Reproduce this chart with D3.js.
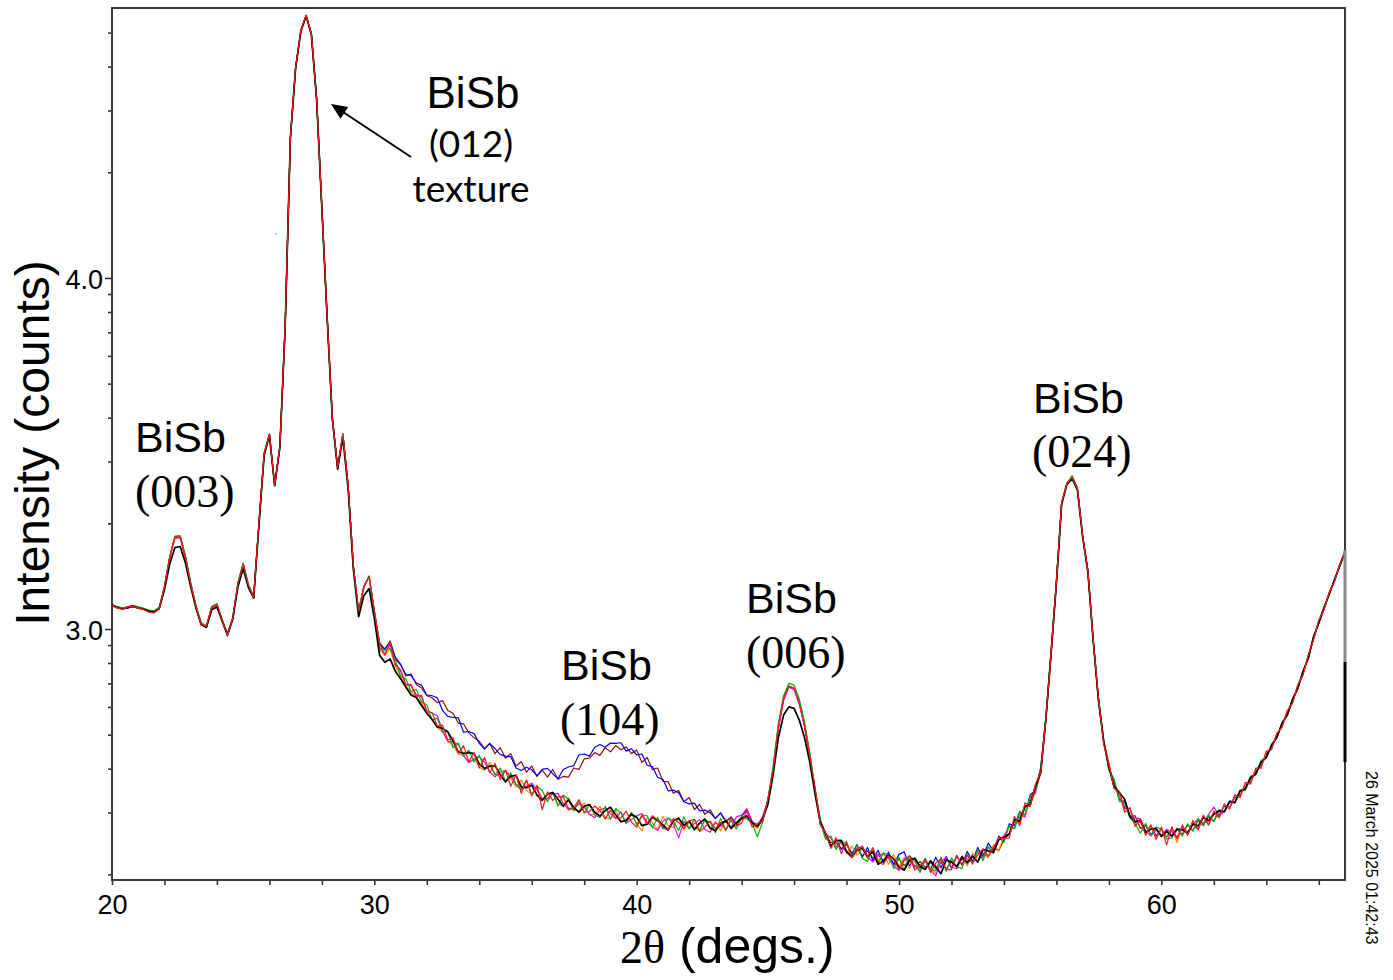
<!DOCTYPE html>
<html><head><meta charset="utf-8">
<script src="https://cdn.jsdelivr.net/npm/d3@7"></script>
<style>body{margin:0;background:#fff}svg{display:block}</style>
</head><body>
<svg id="c" width="1393" height="980"></svg>
<script>
// 2-theta grid (degrees)
const angles = [
20,20.2,20.4,20.6,20.8,21,21.2,21.4,21.6,21.8,
22,22.2,22.4,22.6,22.8,23,23.2,23.4,23.6,23.8,
24,24.2,24.4,24.6,24.8,25,25.2,25.4,25.6,25.8,
26,26.2,26.4,26.6,26.8,27,27.2,27.4,27.6,27.8,
28,28.2,28.4,28.6,28.8,29,29.2,29.4,29.6,29.8,
30,30.2,30.4,30.6,30.8,31,31.2,31.4,31.6,31.8,
32,32.2,32.4,32.6,32.8,33,33.2,33.4,33.6,33.8,
34,34.2,34.4,34.6,34.8,35,35.2,35.4,35.6,35.8,
36,36.2,36.4,36.6,36.8,37,37.2,37.4,37.6,37.8,
38,38.2,38.4,38.6,38.8,39,39.2,39.4,39.6,39.8,
40,40.2,40.4,40.6,40.8,41,41.2,41.4,41.6,41.8,
42,42.2,42.4,42.6,42.8,43,43.2,43.4,43.6,43.8,
44,44.2,44.4,44.6,44.8,45,45.2,45.4,45.6,45.8,
46,46.2,46.4,46.6,46.8,47,47.2,47.4,47.6,47.8,
48,48.2,48.4,48.6,48.8,49,49.2,49.4,49.6,49.8,
50,50.2,50.4,50.6,50.8,51,51.2,51.4,51.6,51.8,
52,52.2,52.4,52.6,52.8,53,53.2,53.4,53.6,53.8,
54,54.2,54.4,54.6,54.8,55,55.2,55.4,55.6,55.8,
56,56.2,56.4,56.6,56.8,57,57.2,57.4,57.6,57.8,
58,58.2,58.4,58.6,58.8,59,59.2,59.4,59.6,59.8,
60,60.2,60.4,60.6,60.8,61,61.2,61.4,61.6,61.8,
62,62.2,62.4,62.6,62.8,63,63.2,63.4,63.6,63.8,
64,64.2,64.4,64.6,64.8,65,65.2,65.4,65.6,65.8,
66,66.2,66.4,66.6,66.8,67];

// log10(intensity counts) for each scan
const scanRed = [
3.070,3.060,3.056,3.063,3.064,3.060,3.056,3.048,3.046,3.058,
3.120,3.205,3.262,3.262,3.205,3.128,3.065,3.012,3.008,3.062,
3.070,3.025,2.982,3.030,3.130,3.185,3.125,3.090,3.300,3.500,
3.555,3.410,3.520,3.860,4.400,4.600,4.705,4.748,4.695,4.510,
4.200,3.890,3.600,3.460,3.555,3.410,3.180,3.050,3.120,3.150,
3.050,2.958,2.926,2.962,2.898,2.884,2.840,2.842,2.808,2.811,
2.764,2.762,2.724,2.726,2.684,2.690,2.645,2.668,2.622,2.648,
2.604,2.634,2.590,2.617,2.571,2.598,2.552,2.585,2.532,2.570,
2.525,2.555,2.485,2.536,2.512,2.522,2.523,2.489,2.490,2.514,
2.478,2.480,2.496,2.483,2.459,2.484,2.461,2.462,2.481,2.450,
2.436,2.468,2.446,2.468,2.456,2.434,2.427,2.460,2.449,2.432,
2.453,2.458,2.423,2.435,2.453,2.431,2.449,2.426,2.462,2.439,
2.447,2.482,2.436,2.446,2.452,2.515,2.598,2.724,2.803,2.836,
2.832,2.787,2.727,2.636,2.548,2.442,2.420,2.375,2.405,2.360,
2.395,2.348,2.369,2.380,2.352,2.377,2.338,2.329,2.354,2.343,
2.314,2.343,2.354,2.313,2.326,2.343,2.306,2.333,2.345,2.316,
2.314,2.353,2.329,2.355,2.333,2.356,2.374,2.354,2.378,2.404,
2.403,2.405,2.466,2.440,2.505,2.494,2.558,2.590,2.747,2.935,
3.135,3.360,3.415,3.432,3.400,3.265,3.165,2.970,2.806,2.672,
2.614,2.545,2.538,2.478,2.492,2.438,2.458,2.412,2.442,2.400,
2.436,2.385,2.437,2.402,2.442,2.412,2.455,2.428,2.470,2.442,
2.482,2.462,2.502,2.487,2.528,2.520,2.563,2.558,2.604,2.603,
2.652,2.656,2.703,2.720,2.767,2.789,2.841,2.869,2.926,2.969,
3.025,3.055,3.105,3.135,3.184,3.220];

const scanGreen = [
3.066,3.064,3.060,3.060,3.067,3.063,3.059,3.054,3.051,3.062,
3.122,3.207,3.265,3.266,3.208,3.132,3.067,3.017,3.006,3.064,
3.072,3.027,2.987,3.032,3.132,3.188,3.127,3.092,3.300,3.500,
3.555,3.410,3.520,3.860,4.400,4.600,4.705,4.748,4.695,4.510,
4.200,3.890,3.600,3.460,3.555,3.410,3.180,3.050,3.120,3.150,
3.050,2.944,2.940,2.945,2.912,2.866,2.858,2.822,2.828,2.792,
2.784,2.741,2.746,2.707,2.708,2.662,2.675,2.637,2.655,2.622,
2.640,2.600,2.612,2.585,2.604,2.566,2.590,2.558,2.542,2.569,
2.528,2.552,2.540,2.508,2.535,2.496,2.527,2.515,2.482,2.510,
2.475,2.500,2.470,2.463,2.495,2.458,2.488,2.476,2.446,2.478,
2.442,2.470,2.468,2.434,2.463,2.430,2.462,2.452,2.426,2.465,
2.430,2.458,2.425,2.455,2.450,2.420,2.460,2.428,2.455,2.430,
2.466,2.463,2.445,2.408,2.450,2.512,2.607,2.730,2.810,2.845,
2.840,2.800,2.735,2.648,2.545,2.456,2.402,2.410,2.372,2.396,
2.388,2.352,2.384,2.346,2.338,2.376,2.330,2.362,2.358,2.318,
2.350,2.312,2.354,2.340,2.306,2.345,2.315,2.312,2.350,2.310,
2.348,2.322,2.318,2.360,2.330,2.372,2.340,2.380,2.360,2.406,
2.392,2.440,2.430,2.478,2.470,2.525,2.538,2.600,2.750,2.940,
3.135,3.360,3.415,3.437,3.400,3.265,3.165,2.970,2.806,2.686,
2.598,2.572,2.508,2.510,2.462,2.445,2.418,2.446,2.412,2.436,
2.430,2.402,2.405,2.432,2.410,2.445,2.424,2.460,2.440,2.470,
2.452,2.486,2.478,2.510,2.506,2.542,2.540,2.580,2.584,2.626,
2.632,2.672,2.690,2.733,2.754,2.801,2.830,2.881,2.915,2.979,
3.016,3.063,3.097,3.143,3.177,3.222];

const scanMagenta = [
3.069,3.063,3.057,3.061,3.065,3.062,3.057,3.051,3.048,3.059,
3.119,3.204,3.261,3.263,3.204,3.129,3.064,3.013,3.004,3.061,
3.069,3.023,2.979,3.029,3.129,3.184,3.124,3.089,3.300,3.500,
3.555,3.410,3.520,3.860,4.400,4.600,4.705,4.748,4.695,4.510,
4.200,3.890,3.600,3.460,3.555,3.410,3.180,3.050,3.120,3.150,
3.050,2.946,2.930,2.955,2.900,2.880,2.843,2.838,2.813,2.806,
2.768,2.760,2.753,2.710,2.680,2.678,2.672,2.640,2.620,2.628,
2.636,2.621,2.593,2.579,2.594,2.596,2.581,2.557,2.543,2.552,
2.561,2.542,2.514,2.518,2.530,2.532,2.503,2.485,2.488,2.502,
2.493,2.472,2.462,2.485,2.490,2.474,2.460,2.479,2.447,2.457,
2.468,2.474,2.448,2.437,2.426,2.453,2.461,2.444,2.405,2.452,
2.432,2.446,2.457,2.429,2.421,2.448,2.438,2.454,2.434,2.465,
2.470,2.488,2.452,2.440,2.466,2.508,2.596,2.716,2.796,2.834,
2.828,2.786,2.721,2.636,2.537,2.444,2.418,2.405,2.377,2.396,
2.366,2.354,2.373,2.382,2.350,2.337,2.354,2.360,2.346,2.325,
2.312,2.341,2.350,2.325,2.310,2.339,2.314,2.297,2.339,2.350,
2.322,2.317,2.349,2.345,2.335,2.365,2.350,2.378,2.362,2.398,
2.411,2.436,2.432,2.476,2.464,2.520,2.532,2.602,2.742,2.932,
3.135,3.360,3.415,3.432,3.400,3.265,3.165,2.970,2.797,2.683,
2.601,2.568,2.514,2.510,2.463,2.461,2.460,2.425,2.410,2.428,
2.412,2.429,2.422,2.406,2.434,2.422,2.443,2.460,2.446,2.472,
2.493,2.468,2.480,2.512,2.505,2.540,2.545,2.580,2.585,2.622,
2.634,2.670,2.690,2.734,2.753,2.802,2.830,2.880,2.915,2.980,
3.016,3.062,3.098,3.142,3.178,3.225];

const scanOrange = [
3.067,3.061,3.059,3.063,3.064,3.060,3.055,3.050,3.045,3.057,
3.118,3.203,3.260,3.262,3.206,3.131,3.066,3.016,3.009,3.063,
3.071,3.026,2.986,3.031,3.131,3.186,3.126,3.091,3.300,3.500,
3.555,3.410,3.520,3.860,4.400,4.600,4.705,4.748,4.695,4.510,
4.200,3.890,3.600,3.460,3.555,3.410,3.180,3.045,3.120,3.150,
3.050,2.940,2.925,2.942,2.895,2.866,2.838,2.822,2.806,2.790,
2.762,2.742,2.720,2.706,2.680,2.668,2.644,2.640,2.620,2.632,
2.606,2.598,2.620,2.586,2.580,2.598,2.575,2.550,2.570,2.540,
2.530,2.550,2.518,2.515,2.535,2.500,2.495,2.520,2.485,2.482,
2.505,2.470,2.472,2.495,2.462,2.460,2.484,2.450,2.455,2.476,
2.445,2.425,2.462,2.448,2.430,2.466,2.440,2.435,2.462,2.428,
2.450,2.436,2.425,2.458,2.430,2.452,2.425,2.460,2.430,2.448,
2.465,2.460,2.448,2.432,2.465,2.511,2.602,2.722,2.801,2.837,
2.829,2.789,2.724,2.639,2.541,2.452,2.400,2.408,2.380,2.390,
2.360,2.382,2.355,2.375,2.345,2.372,2.340,2.362,2.330,2.358,
2.322,2.350,2.318,2.348,2.312,2.344,2.320,2.305,2.346,2.312,
2.345,2.318,2.355,2.325,2.362,2.336,2.372,2.350,2.385,2.368,
2.410,2.412,2.452,2.446,2.490,2.498,2.535,2.588,2.748,2.937,
3.135,3.360,3.415,3.432,3.400,3.265,3.165,2.970,2.803,2.682,
2.620,2.550,2.532,2.480,2.488,2.440,2.452,2.418,2.440,2.405,
2.428,2.410,2.432,2.392,2.440,2.418,2.450,2.430,2.462,2.444,
2.476,2.462,2.500,2.490,2.525,2.522,2.560,2.562,2.600,2.606,
2.650,2.658,2.702,2.720,2.766,2.790,2.840,2.870,2.925,2.970,
3.024,3.058,3.101,3.139,3.181,3.219];

const scanBlack = [
3.068,3.061,3.057,3.061,3.065,3.060,3.057,3.051,3.048,3.058,
3.112,3.185,3.232,3.235,3.188,3.120,3.060,3.012,3.005,3.055,
3.063,3.022,2.984,3.027,3.120,3.172,3.118,3.088,3.295,3.495,
3.552,3.408,3.518,3.858,4.398,4.598,4.703,4.746,4.693,4.508,
4.198,3.888,3.598,3.455,3.545,3.400,3.170,3.035,3.095,3.115,
3.030,2.925,2.905,2.915,2.880,2.858,2.835,2.812,2.805,2.782,
2.760,2.742,2.721,2.717,2.707,2.681,2.650,2.646,2.648,2.645,
2.616,2.603,2.609,2.611,2.585,2.564,2.581,2.583,2.550,2.548,
2.555,2.527,2.512,2.530,2.534,2.515,2.495,2.513,2.492,2.478,
2.495,2.500,2.478,2.467,2.483,2.492,2.471,2.451,2.455,2.472,
2.464,2.440,2.444,2.464,2.454,2.442,2.427,2.454,2.461,2.440,
2.453,2.428,2.447,2.459,2.433,2.425,2.445,2.454,2.432,2.448,
2.460,2.468,2.448,2.438,2.458,2.500,2.585,2.690,2.755,2.778,
2.774,2.740,2.690,2.620,2.530,2.448,2.418,2.381,2.397,2.398,
2.366,2.350,2.369,2.376,2.352,2.365,2.330,2.339,2.356,2.345,
2.322,2.313,2.342,2.347,2.324,2.315,2.340,2.323,2.303,2.342,
2.336,2.323,2.351,2.335,2.353,2.336,2.372,2.368,2.364,2.400,
2.407,2.415,2.458,2.452,2.495,2.500,2.552,2.590,2.745,2.935,
3.130,3.355,3.412,3.428,3.396,3.262,3.162,2.968,2.800,2.679,
2.607,2.552,2.534,2.515,2.467,2.451,2.456,2.420,2.430,2.432,
2.410,2.423,2.410,2.430,2.428,2.418,2.445,2.439,2.464,2.454,
2.473,2.482,2.480,2.508,2.505,2.538,2.545,2.576,2.588,2.620,
2.635,2.668,2.692,2.730,2.756,2.798,2.832,2.878,2.918,2.976,
3.018,3.058,3.102,3.138,3.182,3.218];

const scanBlue = [
3.070,3.063,3.059,3.064,3.067,3.062,3.058,3.053,3.050,3.061,
3.121,3.206,3.263,3.264,3.206,3.131,3.066,3.016,3.009,3.063,
3.071,3.026,2.986,3.031,3.131,3.186,3.126,3.091,3.300,3.500,
3.555,3.410,3.520,3.860,4.400,4.600,4.705,4.748,4.695,4.510,
4.200,3.890,3.600,3.460,3.555,3.410,3.180,3.050,3.120,3.150,
3.050,2.955,2.944,2.962,2.915,2.898,2.870,2.868,2.846,2.840,
2.812,2.810,2.804,2.768,2.751,2.748,2.747,2.706,2.708,2.702,
2.674,2.658,2.674,2.659,2.642,2.638,2.636,2.604,2.597,2.606,
2.599,2.582,2.600,2.603,2.588,2.573,2.600,2.607,2.611,2.641,
2.644,2.638,2.663,2.671,2.663,2.675,2.674,2.676,2.652,2.659,
2.641,2.644,2.612,2.608,2.577,2.572,2.539,2.541,2.534,2.508,
2.502,2.504,2.482,2.484,2.477,2.460,2.476,2.453,2.463,2.446,
2.466,2.484,2.452,2.440,2.462,2.514,2.603,2.722,2.802,2.836,
2.828,2.788,2.722,2.638,2.540,2.455,2.418,2.380,2.402,2.372,
2.390,2.358,2.386,2.350,2.378,2.340,2.370,2.335,2.365,2.328,
2.358,2.365,2.325,2.348,2.318,2.346,2.315,2.350,2.320,2.352,
2.318,2.355,2.328,2.366,2.338,2.378,2.350,2.390,2.368,2.410,
2.398,2.445,2.440,2.480,2.470,2.528,2.540,2.605,2.748,2.938,
3.135,3.360,3.415,3.432,3.400,3.265,3.165,2.970,2.801,2.681,
2.606,2.548,2.530,2.490,2.488,2.450,2.452,2.420,2.440,2.410,
2.430,2.408,2.428,2.405,2.435,2.415,2.445,2.428,2.465,2.442,
2.475,2.470,2.495,2.492,2.520,2.525,2.558,2.565,2.595,2.608,
2.645,2.660,2.700,2.724,2.764,2.792,2.838,2.872,2.923,2.972,
3.022,3.062,3.098,3.142,3.178,3.221];

const scanBrown = [
3.066,3.060,3.057,3.060,3.063,3.059,3.056,3.050,3.047,3.057,
3.117,3.202,3.259,3.260,3.203,3.128,3.063,3.013,3.006,3.060,
3.068,3.023,2.983,3.028,3.128,3.183,3.123,3.088,3.300,3.500,
3.555,3.410,3.520,3.860,4.400,4.600,4.705,4.748,4.695,4.510,
4.200,3.890,3.600,3.460,3.555,3.410,3.180,3.050,3.120,3.150,
3.050,2.962,2.940,2.966,2.920,2.900,2.866,2.872,2.842,2.832,
2.810,2.804,2.790,2.796,2.768,2.760,2.732,2.730,2.704,2.690,
2.680,2.660,2.674,2.645,2.662,2.632,2.645,2.610,2.622,2.592,
2.610,2.580,2.598,2.578,2.600,2.572,2.580,2.578,2.604,2.600,
2.630,2.632,2.648,2.640,2.662,2.650,2.668,2.656,2.664,2.645,
2.655,2.620,2.634,2.600,2.604,2.566,2.565,2.532,2.540,2.508,
2.520,2.486,2.500,2.472,2.485,2.460,2.476,2.450,2.465,2.440,
2.460,2.460,2.445,2.432,2.458,2.509,2.599,2.719,2.799,2.838,
2.831,2.791,2.726,2.641,2.541,2.449,2.412,2.392,2.390,2.375,
2.385,2.362,2.375,2.354,2.368,2.348,2.358,2.340,2.352,2.332,
2.344,2.326,2.340,2.322,2.338,2.320,2.335,2.318,2.336,2.316,
2.338,2.322,2.345,2.330,2.352,2.338,2.362,2.350,2.378,2.368,
2.400,2.418,2.452,2.462,2.492,2.508,2.550,2.594,2.744,2.934,
3.135,3.360,3.415,3.432,3.400,3.265,3.165,2.970,2.799,2.681,
2.604,2.565,2.515,2.505,2.466,2.468,2.432,2.440,2.415,2.430,
2.408,2.428,2.410,2.430,2.415,2.442,2.425,2.455,2.440,2.466,
2.452,2.482,2.480,2.506,2.508,2.538,2.544,2.576,2.586,2.620,
2.634,2.670,2.690,2.732,2.755,2.800,2.830,2.880,2.916,2.978,
3.016,3.061,3.099,3.141,3.179,3.220];

const scanColors = ["#8b1010","#0000ff","#ff8c00","#ff00ff","#00b400","#000000","#ee1c1c"];
const scanWidths = [1.2,1.2,1.2,1.2,1.2,1.7,1.2];
const xTickValues = [20,22,24,26,28,30,32,34,36,38,40,42,44,46,48,50,52,54,56,58,60,62,64,66];
const xTickLabelValues = [20,30,40,50,60];
const yMinorCounts = [200,300,400,500,600,700,800,900,2000,3000,4000,5000,6000,7000,8000,9000,20000,30000,40000,50000];
const yMajorCounts = [1000,10000];
const yMajorLabels = ["3.0","4.0"];
const peakFormula = ["BiSb","BiSb","BiSb","BiSb","BiSb"];
const peakIndex = ["(003)","(012)","(104)","(006)","(024)"];
const textureNote = "texture";
const xTitleSymbol = "2\u03B8";
const xTitleUnit = " (degs.)";
const yTitle = "Intensity (counts)";
const stamp = "26 March 2025 01:42:43";

const scans = [scanBrown, scanBlue, scanOrange, scanMagenta, scanGreen, scanBlack, scanRed];
scans.forEach((s,k)=>{ if(s.length!==angles.length) throw new Error("scan "+k+" length "+s.length); });

const svg = d3.select("#c");
const L=112, R=1345, T=8, B=880;
const x = d3.scaleLinear().domain([20,67]).range([L,R]);
const y = d3.scaleLinear().domain([2.285,4.769]).range([B,T]);

svg.append("defs").append("clipPath").attr("id","pc")
  .append("rect").attr("x",L).attr("y",T).attr("width",R-L).attr("height",B-T);

const line = d3.line().x((d,i)=>x(angles[i])).y(d=>y(d));
const gl = svg.append("g").attr("clip-path","url(#pc)");
scans.forEach((s,k)=>{
  gl.append("path").attr("d",line(s)).attr("fill","none")
    .attr("stroke",scanColors[k]).attr("stroke-width",scanWidths[k])
    .attr("stroke-linejoin","round");
});

const sans = "'Liberation Sans', Arial, sans-serif";
const serif = "'Liberation Serif', 'Times New Roman', serif";

// x axis
const xa = svg.append("g").attr("transform",`translate(0,${B})`)
  .call(d3.axisBottom(x).tickValues(xTickValues).tickSize(5).tickPadding(10)
    .tickFormat(d=> xTickLabelValues.includes(d) ? String(d) : ""));
xa.select(".domain").remove();
xa.selectAll(".tick line").attr("stroke","#333").attr("stroke-width",1.6);
xa.selectAll(".tick text").attr("font-family",sans).attr("font-size",27).attr("fill","#000");

// y axis minor + major
const ya1 = svg.append("g").attr("transform",`translate(${L},0)`)
  .call(d3.axisLeft(y).tickValues(yMinorCounts.map(c=>Math.log10(c))).tickSize(4).tickFormat(""));
ya1.select(".domain").remove();
ya1.selectAll(".tick line").attr("stroke","#333").attr("stroke-width",1.6);
const ya2 = svg.append("g").attr("transform",`translate(${L},0)`)
  .call(d3.axisLeft(y).tickValues(yMajorCounts.map(c=>Math.log10(c))).tickSize(7).tickPadding(2)
    .tickFormat((d,i)=>yMajorLabels[i]));
ya2.select(".domain").remove();
ya2.selectAll(".tick line").attr("stroke","#333").attr("stroke-width",1.6);
ya2.selectAll(".tick text").attr("font-family",sans).attr("font-size",27).attr("fill","#000").attr("dy","0.4em");

// frame
svg.append("rect").attr("x",L).attr("y",T).attr("width",R-L).attr("height",B-T)
  .attr("fill","none").attr("stroke","#3a3a3a").attr("stroke-width",2);
svg.append("rect").attr("x",1343.5).attr("y",550).attr("width",3).attr("height",112).attr("fill","#8a8a8a");
svg.append("rect").attr("x",1343.5).attr("y",662).attr("width",3).attr("height",100).attr("fill","#000");

// titles
svg.append("text").attr("transform","translate(49,443) rotate(-90)")
  .attr("text-anchor","middle").attr("font-family",sans).attr("font-size",48).text(yTitle);
const xt = svg.append("text").attr("x",620).attr("y",963);
xt.append("tspan").attr("font-family",serif).attr("font-size",46).text(xTitleSymbol);
xt.append("tspan").attr("font-family",sans).attr("font-size",50).text(xTitleUnit);
svg.append("text").attr("transform","translate(1366,771) rotate(90)")
  .attr("font-family",sans).attr("font-size",16).text(stamp);

// peak annotations
function formula(i, px, py){ svg.append("text").attr("x",px).attr("y",py).attr("font-family",sans).attr("font-size",43).text(peakFormula[i]); }
function hkl(i, px, py){ svg.append("text").attr("x",px).attr("y",py).attr("font-family",serif).attr("font-size",46).text(peakIndex[i]); }
formula(0,135,452); hkl(0,135,507);
formula(2,561,680); hkl(2,560,735);
formula(3,746,613); hkl(3,746,668);
formula(4,1033,413); hkl(4,1032,467);
svg.append("text").attr("x",473).attr("y",108).attr("text-anchor","middle").attr("font-family",sans).attr("font-size",44).text(peakFormula[1]);
svg.append("text").attr("x",471).attr("y",157).attr("text-anchor","middle").attr("font-family","Lato, 'Open Sans', sans-serif").attr("font-size",37).text(peakIndex[1]);
svg.append("text").attr("x",471).attr("y",202).attr("text-anchor","middle").attr("font-family","Lato, 'Open Sans', sans-serif").attr("font-size",37).text(textureNote);

// arrow
const ax0=411, ay0=157, ax1=331, ay1=104;
svg.append("line").attr("x1",ax0).attr("y1",ay0).attr("x2",ax1+9).attr("y2",ay1+6)
  .attr("stroke","#000").attr("stroke-width",2);
const ang = Math.atan2(ay1-ay0, ax1-ax0), al=16, aw=7;
const bx = ax1 - al*Math.cos(ang), by = ay1 - al*Math.sin(ang);
svg.append("path").attr("d",`M${ax1},${ay1}L${bx - aw*Math.sin(ang)},${by + aw*Math.cos(ang)}L${bx + aw*Math.sin(ang)},${by - aw*Math.cos(ang)}Z`).attr("fill","#000");
svg.append("circle").attr("cx",276).attr("cy",234).attr("r",1).attr("fill","#6cc6e0");
</script>
</body></html>
